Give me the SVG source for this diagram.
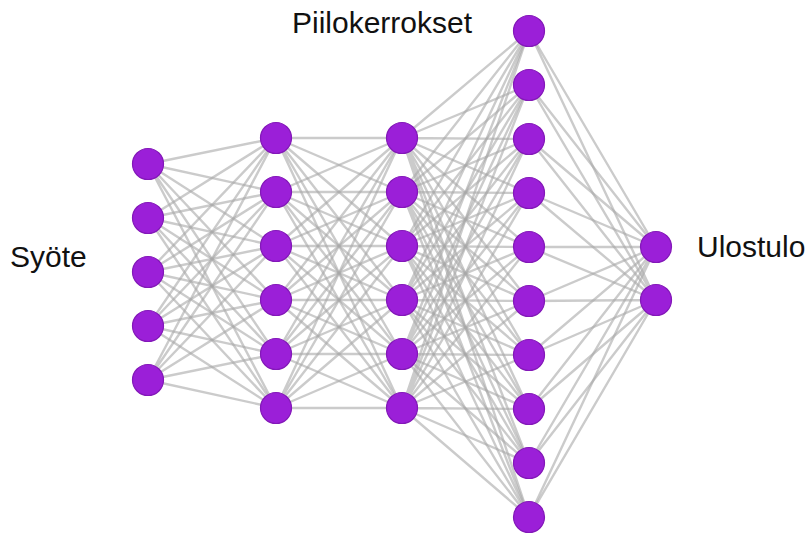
<svg xmlns="http://www.w3.org/2000/svg" width="811" height="534" viewBox="0 0 811 534">
<style>
.e{fill:none;stroke:#a9a9a9;stroke-opacity:.6;stroke-width:2.4;stroke-linejoin:round}
.n{fill:#9b1fd8;stroke:#8318b8;stroke-width:1.2}
.t{font-family:"Liberation Sans",Arial,sans-serif;font-size:30px;fill:#111}
</style>
<rect width="811" height="534" fill="#fff"/>
<g id="connectors">
<path class="e" d="M276 138L148 164 276 192 148 164 276 246 148 164 276 300 148 164 276 354 148 164 276 408"/>
<path class="e" d="M276 138L148 218 276 192 148 218 276 246 148 218 276 300 148 218 276 354 148 218 276 408"/>
<path class="e" d="M276 138L148 272 276 192 148 272 276 246 148 272 276 300 148 272 276 354 148 272 276 408"/>
<path class="e" d="M276 138L148 326 276 192 148 326 276 246 148 326 276 300 148 326 276 354 148 326 276 408"/>
<path class="e" d="M276 138L148 380 276 192 148 380 276 246 148 380 276 300 148 380 276 354 148 380 276 408"/>
<path class="e" d="M402 138L276 138 402 192 276 138 402 246 276 138 402 300 276 138 402 354 276 138 402 408"/>
<path class="e" d="M402 138L276 192 402 192 276 192 402 246 276 192 402 300 276 192 402 354 276 192 402 408"/>
<path class="e" d="M402 138L276 246 402 192 276 246 402 246 276 246 402 300 276 246 402 354 276 246 402 408"/>
<path class="e" d="M402 138L276 300 402 192 276 300 402 246 276 300 402 300 276 300 402 354 276 300 402 408"/>
<path class="e" d="M402 138L276 354 402 192 276 354 402 246 276 354 402 300 276 354 402 354 276 354 402 408"/>
<path class="e" d="M402 138L276 408 402 192 276 408 402 246 276 408 402 300 276 408 402 354 276 408 402 408"/>
<path class="e" d="M529 31L402 138 529 85 402 138 529 139 402 138 529 193 402 138 529 247 402 138 529 301 402 138 529 355 402 138 529 409 402 138 529 463 402 138 529 517"/>
<path class="e" d="M529 31L402 192 529 85 402 192 529 139 402 192 529 193 402 192 529 247 402 192 529 301 402 192 529 355 402 192 529 409 402 192 529 463 402 192 529 517"/>
<path class="e" d="M529 31L402 246 529 85 402 246 529 139 402 246 529 193 402 246 529 247 402 246 529 301 402 246 529 355 402 246 529 409 402 246 529 463 402 246 529 517"/>
<path class="e" d="M529 31L402 300 529 85 402 300 529 139 402 300 529 193 402 300 529 247 402 300 529 301 402 300 529 355 402 300 529 409 402 300 529 463 402 300 529 517"/>
<path class="e" d="M529 31L402 354 529 85 402 354 529 139 402 354 529 193 402 354 529 247 402 354 529 301 402 354 529 355 402 354 529 409 402 354 529 463 402 354 529 517"/>
<path class="e" d="M529 31L402 408 529 85 402 408 529 139 402 408 529 193 402 408 529 247 402 408 529 301 402 408 529 355 402 408 529 409 402 408 529 463 402 408 529 517"/>
<path class="e" d="M529 31L656 247 529 85 656 247 529 139 656 247 529 193 656 247 529 247 656 247 529 301 656 247 529 355 656 247 529 409 656 247 529 463 656 247 529 517"/>
<path class="e" d="M529 31L656 300 529 85 656 300 529 139 656 300 529 193 656 300 529 247 656 300 529 301 656 300 529 355 656 300 529 409 656 300 529 463 656 300 529 517"/>
</g>
<g id="input">
<circle class="n" cx="148" cy="164" r="15.5"/>
<circle class="n" cx="148" cy="218" r="15.5"/>
<circle class="n" cx="148" cy="272" r="15.5"/>
<circle class="n" cx="148" cy="326" r="15.5"/>
<circle class="n" cx="148" cy="380" r="15.5"/>
</g>
<g id="hidden1">
<circle class="n" cx="276" cy="138" r="15.5"/>
<circle class="n" cx="276" cy="192" r="15.5"/>
<circle class="n" cx="276" cy="246" r="15.5"/>
<circle class="n" cx="276" cy="300" r="15.5"/>
<circle class="n" cx="276" cy="354" r="15.5"/>
<circle class="n" cx="276" cy="408" r="15.5"/>
</g>
<g id="hidden2">
<circle class="n" cx="402" cy="138" r="15.5"/>
<circle class="n" cx="402" cy="192" r="15.5"/>
<circle class="n" cx="402" cy="246" r="15.5"/>
<circle class="n" cx="402" cy="300" r="15.5"/>
<circle class="n" cx="402" cy="354" r="15.5"/>
<circle class="n" cx="402" cy="408" r="15.5"/>
</g>
<g id="hidden3">
<circle class="n" cx="529" cy="31" r="15.5"/>
<circle class="n" cx="529" cy="85" r="15.5"/>
<circle class="n" cx="529" cy="139" r="15.5"/>
<circle class="n" cx="529" cy="193" r="15.5"/>
<circle class="n" cx="529" cy="247" r="15.5"/>
<circle class="n" cx="529" cy="301" r="15.5"/>
<circle class="n" cx="529" cy="355" r="15.5"/>
<circle class="n" cx="529" cy="409" r="15.5"/>
<circle class="n" cx="529" cy="463" r="15.5"/>
<circle class="n" cx="529" cy="517" r="15.5"/>
</g>
<g id="output">
<circle class="n" cx="656" cy="247" r="15.5"/>
<circle class="n" cx="656" cy="300" r="15.5"/>
</g>
<g id="labels">
<text class="t" x="10" y="267">Syöte</text>
<text class="t" x="292" y="33">Piilokerrokset</text>
<text class="t" x="697" y="257">Ulostulo</text>
</g>
</svg>
